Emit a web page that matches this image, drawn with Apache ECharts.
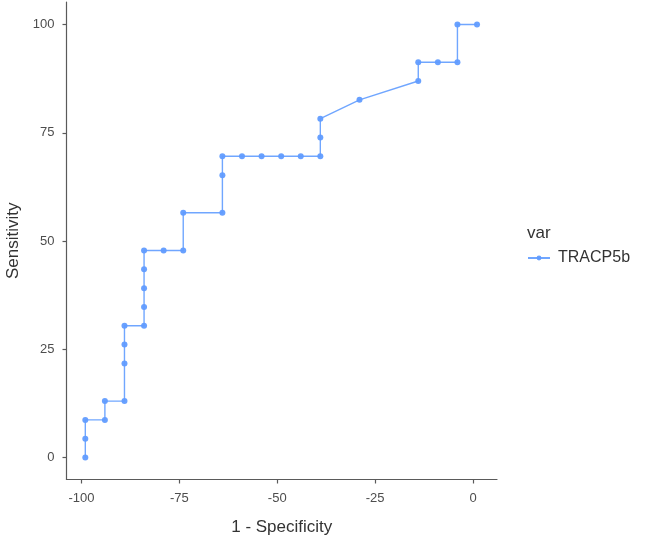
<!DOCTYPE html>
<html>
<head>
<meta charset="utf-8">
<script src="https://cdn.jsdelivr.net/npm/echarts@6/dist/echarts.min.js"></script>
<style>
  html, body { margin: 0; padding: 0; background: #fff; }
  #chart { width: 645px; height: 539px; }
</style>
</head>
<body>
<div id="chart"></div>
<script>
// ROC curve points (1 - specificity, sensitivity)
const fpr = [-99, -99, -99, -94, -94, -89, -89, -89, -89, -84, -84, -84, -84, -84, -79, -74, -74,
             -64, -64, -64, -59, -54, -49, -44, -39, -39, -39, -29, -14, -14, -9, -4, -4, 1];
const sens = [0, 4.35, 8.70, 8.70, 13.04, 13.04, 21.74, 26.09, 30.43, 30.43, 34.78, 39.13, 43.48, 47.83, 47.83, 47.83, 56.52,
              56.52, 65.22, 69.57, 69.57, 69.57, 69.57, 69.57, 69.57, 73.91, 78.26, 82.61, 86.96, 91.30, 91.30, 91.30, 100, 100];
const x_ticks = [-100, -75, -50, -25, 0];
const y_ticks = [0, 25, 50, 75, 100];
const series_name = "TRACP5b";
const legend_title = "var";

const line_color = "#619CFF";
const font = "'Liberation Sans', Arial, sans-serif";

function buildOption(){
    const axisLine = {show: true, onZero: false, lineStyle: {color: "#5a5a5a", width: 1.2}};
    const axisTick = {show: true, length: 4, lineStyle: {color: "#5a5a5a", width: 1.2}};
    const label = {color: "#4d4d4d", fontSize: 13, fontFamily: font};

    return {
        animation: false,
        grid: {left: 66.5, right: 148, top: 2, bottom: 59.5, containLabel: false, outerBoundsMode: "none"},
        title: {
            text: legend_title, left: 522, top: 220,
            textStyle: {fontSize: 17, fontWeight: "normal", color: "#333", fontFamily: font}
        },
        legend: {
            data: [series_name], orient: "vertical", left: 527, top: 250, padding: 0,
            itemWidth: 22, itemHeight: 6, itemGap: 6,
            textStyle: {fontSize: 16, color: "#333", fontFamily: font, padding: [0, 0, 0, 3]}
        },
        xAxis: {
            type: "value", min: -103.8, max: 6.1,
            name: "1 - Specificity", nameLocation: "middle", nameGap: 39,
            nameTextStyle: {fontSize: 17, color: "#333", fontFamily: font},
            splitLine: {show: false},
            axisLine,
            axisTick: Object.assign({customValues: x_ticks}, axisTick),
            axisLabel: Object.assign({customValues: x_ticks, margin: 12}, label)
        },
        yAxis: {
            type: "value", min: -5.06, max: 105.2,
            name: "Sensitivity", nameLocation: "middle", nameGap: 44.5,
            nameTextStyle: {fontSize: 17, color: "#333", fontFamily: font},
            splitLine: {show: false},
            axisLine,
            axisTick: Object.assign({customValues: y_ticks}, axisTick),
            axisLabel: Object.assign({customValues: y_ticks, margin: 12}, label)
        },
        series: [{
            name: series_name,
            type: "line",
            data: fpr.map((x, i) => [x, sens[i]]),
            symbol: "circle", symbolSize: 6,
            lineStyle: {color: line_color, width: 1.4, opacity: 0.9},
            itemStyle: {color: line_color, opacity: 0.95}
        }]
    };
}

const chart = echarts.init(document.getElementById("chart"), null, {renderer: "canvas"});
chart.setOption(buildOption());
</script>
</body>
</html>
